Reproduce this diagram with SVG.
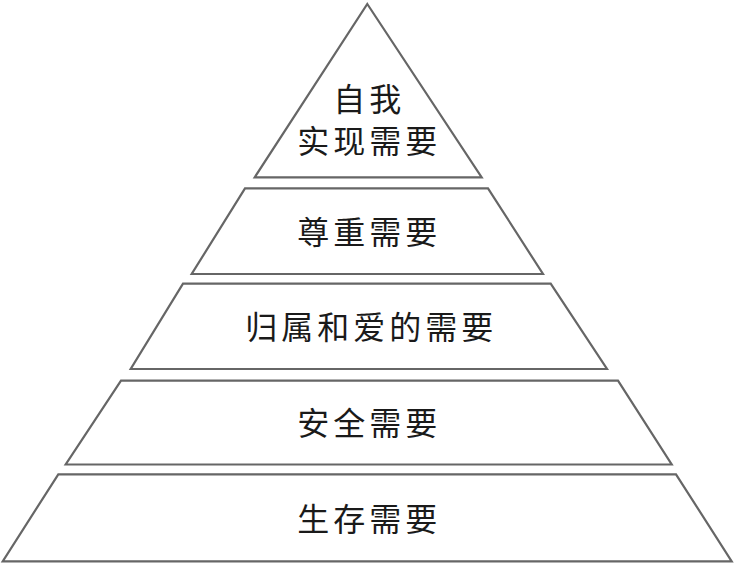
<svg xmlns="http://www.w3.org/2000/svg" width="736" height="564" viewBox="0 0 736 564">
<style>
.lvl{fill:#ffffff;stroke:#666666;stroke-width:2.2;stroke-linejoin:miter}
.t{font-family:"Noto Sans CJK SC","Noto Sans CJK JP",sans-serif;font-size:32px;letter-spacing:4px;fill:#1a1a1a;text-anchor:middle;dominant-baseline:central}
</style>
<rect width="736" height="564" fill="#ffffff"/>
<g id="level5">
<polygon class="lvl" points="367.3,4 481.7,177.3 254.7,177.3"/>
<text class="t" x="369.3" y="97">自我</text>
<text class="t" x="369.3" y="139">实现需要</text>
</g>
<g id="level4">
<polygon class="lvl" points="245,188.3 488,188.3 543,274 191.7,274"/>
<text class="t" x="369.3" y="230">尊重需要</text>
</g>
<g id="level3">
<polygon class="lvl" points="183,283.7 550.7,283.7 607,369 130.7,369"/>
<text class="t" x="371.3" y="325">归属和爱的需要</text>
</g>
<g id="level2">
<polygon class="lvl" points="121,380.7 618,380.7 671.7,464.5 65.7,464.5"/>
<text class="t" x="369.3" y="421">安全需要</text>
</g>
<g id="level1">
<polygon class="lvl" points="58.3,474.3 676,474.3 731.7,561.3 2.7,561.3"/>
<text class="t" x="369.3" y="517">生存需要</text>
</g>
<g id="connectors"></g>
</svg>
